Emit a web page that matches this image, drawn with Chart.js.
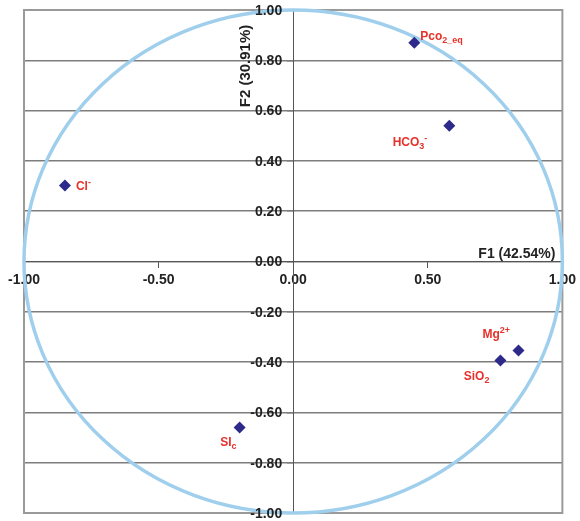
<!DOCTYPE html>
<html>
<head>
<meta charset="utf-8">
<script src="https://cdn.jsdelivr.net/npm/chart.js@4"></script>
<style>
html,body{margin:0;padding:0;background:#fff;}
#wrap{width:580px;height:521px;}
</style>
</head>
<body>
<div id="wrap"><canvas id="c" width="580" height="521"></canvas></div>
<script>
// ---- data ----
const variableNames = ["Pco2_eq", "HCO3-", "Cl-", "Mg2+", "SiO2", "SIc"];
const f1Values = [0.45, 0.58, -0.848, 0.837, 0.77, -0.199];
const f2Values = [0.87, 0.54, 0.302, -0.354, -0.394, -0.66];
const xTickValues = [-1, -0.5, 0, 0.5, 1];
const yTickValues = [-1, -0.8, -0.6, -0.4, -0.2, 0, 0.2, 0.4, 0.6, 0.8, 1];
const xAxisTitle = "F1 (42.54%)";
const yAxisTitle = "F2 (30.91%)";

// rich label parts (text, mode)
const labelParts = [
  [["Pco",""],["2_eq","sub"]],
  [["HCO",""],["3","sub"],["-","sup"]],
  [["Cl",""],["-","sup"]],
  [["Mg",""],["2+","sup"]],
  [["SiO",""],["2","sub"]],
  [["SI",""],["c","sub"]]
];
// label placement (dx, dy baseline, align) - styling only
const labelPlace = [
  [6,-3,"left"],
  [-22,20,"right"],
  [11,4,"left"],
  [-36,-13,"left"],
  [-11,19,"right"],
  [-3,19,"right"]
];

const points = f1Values.map((x,i)=>({x:x, y:f2Values[i]}));
const FONT = '"Liberation Sans", Arial, sans-serif';

const decorPlugin = {
  id:'decor',
  beforeDatasetsDraw(chart){
    const {ctx, chartArea:a, scales:{x,y}} = chart;
    ctx.save();
    // outer box
    ctx.strokeStyle = '#9a9a9a';
    ctx.lineWidth = 2;
    ctx.strokeRect(a.left, a.top, a.right-a.left, a.bottom-a.top);
    // circle
    const cx = x.getPixelForValue(0), cy = y.getPixelForValue(0);
    const rx = x.getPixelForValue(1)-cx, ry = cy - y.getPixelForValue(1);
    ctx.beginPath();
    ctx.ellipse(cx, cy, rx, ry, 0, 0, Math.PI*2);
    ctx.strokeStyle = '#9fcfec';
    ctx.lineWidth = 3.5;
    ctx.stroke();
    // y tick labels (left of the central axis)
    ctx.fillStyle = '#222';
    ctx.font = 'bold 14px ' + FONT;
    ctx.textAlign = 'right';
    ctx.textBaseline = 'middle';
    yTickValues.forEach(v=>{
      ctx.fillText(v.toFixed(2), cx-11, y.getPixelForValue(v)+1);
    });
    // axis titles
    ctx.textBaseline = 'alphabetic';
    ctx.fillText(xAxisTitle, a.right-7, cy-4);
    ctx.save();
    ctx.font = 'bold 15px ' + FONT;
    ctx.translate(cx-47, a.top+56);
    ctx.rotate(-Math.PI/2);
    ctx.textAlign = 'center';
    ctx.textBaseline = 'middle';
    ctx.fillText(yAxisTitle, 0, 0);
    ctx.restore();
    ctx.restore();
  },
  afterDatasetsDraw(chart){
    const {ctx, scales:{x,y}} = chart;
    ctx.save();
    ctx.fillStyle = '#e8312b';
    ctx.textBaseline = 'alphabetic';
    const mainFont = 'bold 12px ' + FONT;
    const smallFont = 'bold 9px ' + FONT;
    labelParts.forEach((parts,i)=>{
      const px = x.getPixelForValue(f1Values[i]);
      const py = y.getPixelForValue(f2Values[i]);
      const [dx,dy,align] = labelPlace[i];
      let total = 0;
      parts.forEach(([t,m])=>{ctx.font = m? smallFont: mainFont; total += ctx.measureText(t).width;});
      let sx = align==='right' ? px+dx-total : px+dx;
      const by = py+dy;
      ctx.textAlign = 'left';
      parts.forEach(([t,m])=>{
        ctx.font = m? smallFont: mainFont;
        const off = m==='sub'? 3 : (m==='sup'? -5 : 0);
        ctx.fillText(t, sx, by+off);
        sx += ctx.measureText(t).width;
      });
    });
    ctx.restore();
  }
};

const tickFont = {family:FONT, size:14, weight:'bold'};

new Chart(document.getElementById('c'), {
  type:'scatter',
  data:{
    datasets:[{
      label:'variables',
      data:points,
      pointStyle:'rectRot',
      pointRadius:6,
      pointHoverRadius:6,
      backgroundColor:'#2d2a8c',
      borderColor:'#2d2a8c',
      borderWidth:0
    }]
  },
  options:{
    responsive:false,
    animation:false,
    layout:{padding:{left:24, right:17, top:10, bottom:8}},
    plugins:{legend:{display:false}, tooltip:{enabled:false}},
    scales:{
      x:{
        type:'linear', min:-1, max:1,
        position:{y:0},
        afterBuildTicks(s){ s.ticks = xTickValues.map(v=>({value:v})); },
        ticks:{autoSkip:false, maxRotation:0, color:'#222', font:tickFont, padding:4,
          callback:v=>Number(v).toFixed(2)},
        grid:{display:true, drawOnChartArea:false, drawTicks:true, tickLength:6, color:'#555', lineWidth:1},
        border:{display:true, color:'#555', width:1}
      },
      y:{
        type:'linear', min:-1, max:1,
        position:{x:0},
        afterBuildTicks(s){ s.ticks = yTickValues.map(v=>({value:v})); },
        ticks:{display:false},
        grid:{display:true, drawOnChartArea:true, drawTicks:true, tickLength:6, color:'#7d7d7d', lineWidth:1.5},
        border:{display:true, color:'#555', width:1}
      }
    }
  },
  plugins:[decorPlugin]
});
</script>
</body>
</html>
